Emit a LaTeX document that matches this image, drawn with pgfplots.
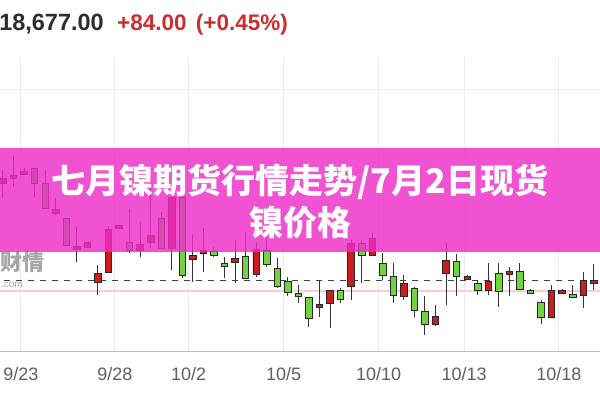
\documentclass[border=0pt]{standalone}
\usepackage{fontspec}
\usepackage{pgfplots}
\usepackage{pgfplotstable}
\pgfplotsset{compat=1.18}
\setmainfont{Liberation Sans}
\newfontfamily\cjk{Noto Sans CJK SC}

\definecolor{banner}{RGB}{237,45,200}
\definecolor{candred}{RGB}{205,28,28}
\definecolor{candgreen}{RGB}{112,212,62}
\definecolor{gridc}{RGB}{236,236,236}
\definecolor{txtgrey}{RGB}{95,95,95}
\definecolor{numc}{RGB}{45,45,45}
\definecolor{upred}{RGB}{204,45,45}
\definecolor{settle}{RGB}{246,206,206}

% x = bar index, t/b = body top/bottom, h/l = high/low, r = 1 for a red bar
\pgfplotstableread{
x  t     b     h     l     r
0  19620 19570 19700 19420 1
1  19650 19620 19840 19530 1
2  19690 19660 19720 19650 1
3  19720 19570 19720 19430 0
4  19570 19320 19700 19320 0
5  19310 19270 19420 19250 1
6  19220 18950 19220 18950 0
7  18940 18910 19130 18780 1
8  18980 18930 18980 18930 1
9  18670 18580 18750 18450 1
10 19110 18680 19140 18670 1
11 19150 19120 19150 19120 1
12 18980 18900 19310 18870 0
13 18960 18900 19180 18830 1
14 19050 18980 19610 18920 1
15 19220 18920 19280 18920 0
16 19430 18920 19430 18700 1
17 19430 18650 19430 18620 0
18 18850 18810 19050 18580 1
19 18900 18870 19120 18680 1
20 18890 18850 18930 18830 0
21 18770 18740 18830 18620 0
22 18820 18780 19000 18570 1
23 18840 18620 19080 18620 0
24 18910 18660 18970 18630 1
25 18900 18760 19030 18730 0
26 18720 18540 18820 18520 0
27 18590 18480 18630 18440 0
28 18470 18440 18550 18370 0
29 18430 18220 18430 18130 0
30 18360 18330 18600 18230 1
31 18500 18370 18500 18120 1
32 18500 18410 18520 18370 0
33 18970 18540 19000 18400 1
34 18970 18850 19000 18570 0
35 19020 18850 19070 18840 1
36 18770 18650 18870 18600 0
37 18640 18450 18770 18370 0
38 18570 18440 18650 18400 1
39 18520 18300 18530 18230 0
40 18290 18160 18440 18050 0
41 18240 18160 18350 18140 1
42 18800 18670 18970 18350 1
43 18790 18640 18860 18440 0
44 18640 18610 18650 18600 1
45 18570 18500 18600 18450 0
46 18590 18500 18770 18450 1
47 18670 18490 18770 18330 0
48 18690 18660 18730 18440 1
49 18690 18510 18770 18500 0
50 18500 18470 18510 18460 0
51 18380 18230 18400 18160 0
52 18500 18230 18550 18230 1
53 18500 18470 18510 18460 1
54 18460 18430 18550 18430 0
55 18600 18450 18680 18320 1
56 18600 18570 18760 18500 1
}\candles

\pgfplotsset{candlebox/.style={at={(0,49)}, anchor=south west, scale only axis,
    width=600bp, height=294bp, xmin=-0.284, xmax=56.59, ymin=17890, ymax=20830}}

\begin{document}
\begin{tikzpicture}[x=1bp,y=1bp]
\useasboundingbox (0,0) rectangle (600,400);
\clip (0,0) rectangle (600,400);
\fill[white] (0,0) rectangle (600,400);

% price line at the top
\node[anchor=base east, text=numc, inner sep=0] at (104,370)
  {\bfseries\fontsize{23.5bp}{26bp}\selectfont 18,677.00};
\node[anchor=base west, text=upred, inner sep=0] at (117,370)
  {\bfseries\fontsize{22.5bp}{25bp}\selectfont +84.00\hspace{3bp} (+0.45\%)};

% grid, dates, reference lines and wicks
\begin{axis}[candlebox,
  axis x line*=bottom, axis y line*=left,
  x axis line style={draw=gridc!80!black, line width=1bp},
  y axis line style={draw=none},
  major tick length=0pt,
  scaled y ticks=false,
  xtick={1.7,10.6,17.6,26.6,35.6,43.7,52.7},
  xticklabels={9/23,9/28,10/2,10/5,10/10,10/13,10/18},
  xticklabel style={font=\fontsize{18bp}{20bp}\selectfont, text=txtgrey,
    anchor=base, yshift=-29.5bp, inner sep=0pt},
  ytick={20500}, yticklabels={},
  xmajorgrids, ymajorgrids, grid style={gridc, line width=1bp}]
\addplot[settle, line width=2bp, forget plot] coordinates {(-1,18490) (58,18490)};
\addplot[black!75, line width=1bp, dash pattern=on 6bp off 6bp, forget plot]
  coordinates {(-1,18600) (58,18600)};
\addplot[draw=none, mark=none, error bars/.cd, y dir=plus, y explicit,
  error mark=none, error bar style={draw=black!80, line width=1bp}]
  table[x=x, y=l, y error expr=\thisrow{h}-\thisrow{l}] {\candles};
\end{axis}

% candle bodies
\begin{axis}[candlebox, hide axis, ybar stacked, bar width=6.5bp]
\addplot[draw=none, fill=none] table[x=x, y=b] {\candles};
\addplot[fill=candred, draw=black!85, line width=0.8bp]
  table[x=x, y expr=\thisrow{r}*(\thisrow{t}-\thisrow{b})] {\candles};
\addplot[fill=candgreen, draw=black!85, line width=0.8bp]
  table[x=x, y expr=(1-\thisrow{r})*(\thisrow{t}-\thisrow{b})] {\candles};
\end{axis}

% watermark
\node[anchor=base east, text=black!35, inner sep=0] at (45,130)
  {\cjk\bfseries\fontsize{22bp}{24bp}\selectfont 财情};
\node[anchor=base west, text=black!35, inner sep=0] at (1,113)
  {\fontsize{10bp}{12bp}\selectfont .com};

% title banner
\fill[banner, opacity=0.82] (0,148) rectangle (600,252);
\node[anchor=base, text=white, inner sep=0] at (300,207)
  {\cjk\bfseries\fontsize{34bp}{40bp}\selectfont 七月镍期货行情走势/7月2日现货};
\node[anchor=base, text=white, inner sep=0] at (300,165)
  {\cjk\bfseries\fontsize{34bp}{40bp}\selectfont 镍价格};
\end{tikzpicture}
\end{document}
